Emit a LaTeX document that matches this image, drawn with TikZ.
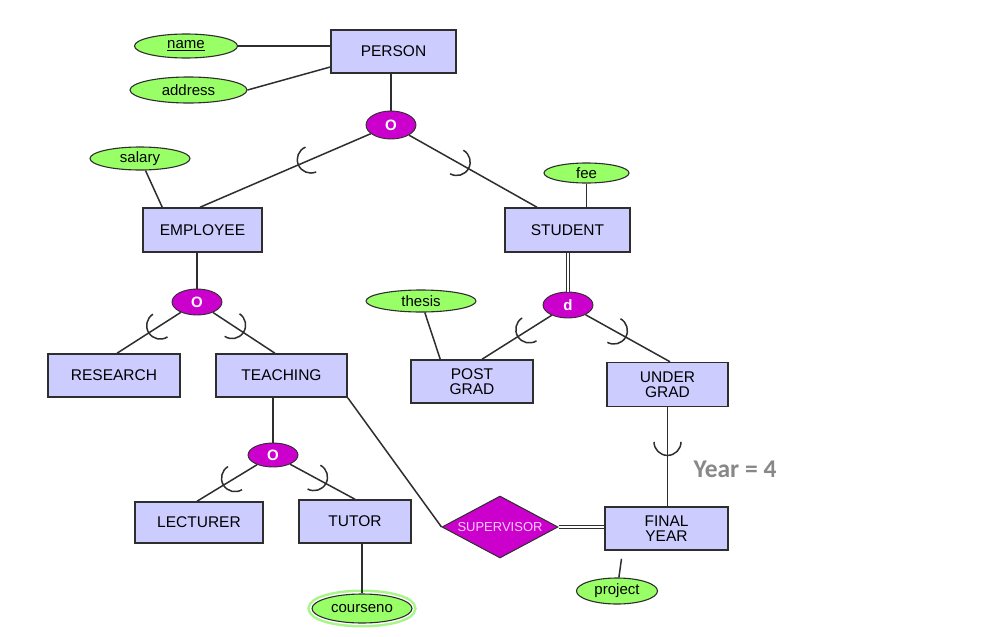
\documentclass[tikz,border=0pt]{standalone}
\usepackage{fontspec}
\setmainfont{Liberation Sans}
\newfontfamily\yearfont{Carlito}
\usetikzlibrary{shapes.geometric,calc}
\definecolor{entfill}{HTML}{CCCCFF}
\definecolor{attfill}{HTML}{99FF66}
\definecolor{specfill}{HTML}{CC00CC}
\definecolor{edgecol}{HTML}{2E2E2E}
\definecolor{ringcol}{HTML}{A8F58A}
\definecolor{yeargray}{HTML}{888888}
\definecolor{suptext}{HTML}{FFCCFF}
\tikzset{
 entity/.style={draw=edgecol, line width=1.5pt, fill=entfill, inner sep=0pt, align=center, font=\fontsize{15.5}{15}\selectfont},
 attr/.style={ellipse, draw=edgecol, line width=1.1pt, fill=attfill, inner sep=0pt, font=\fontsize{15}{15}\selectfont},
 spec/.style={ellipse, draw=edgecol, line width=0.9pt, fill=specfill, inner sep=0pt, minimum width=50pt, minimum height=26pt, text=white, font=\bfseries\fontsize{15}{15}\selectfont},
 conn/.style={draw=edgecol, line width=1.5pt},
 dbl/.style={draw=edgecol, line width=1pt, double=white, double distance=2.2pt},
 cupsym/.pic={\draw[draw=edgecol, line width=1.5pt] (0pt,13.5pt) arc[start angle=90, delta angle=180, radius=13.5pt];}
}
\newcommand\cupon[3]{\path let \p1=($(#1)-(#2)$), \n1={atan2(\y1,\x1)} in ($(#1)!#3!(#2)$) pic[rotate=\n1]{cupsym};}
\begin{document}
\begin{tikzpicture}[x=1pt,y=-1pt]
\path[use as bounding box, fill=white] (0,0) rectangle (985,637);

% entities
\node[entity, minimum width=125pt, minimum height=43pt] (P) at (393.5,51.5) {PERSON};
\node[entity, minimum width=119pt, minimum height=44pt] (EMP) at (202.5,230) {EMPLOYEE};
\node[entity, minimum width=125pt, minimum height=44pt] (STU) at (567.5,230) {STUDENT};
\node[entity, minimum width=132pt, minimum height=43pt] (RES) at (114,375.5) {RESEARCH};
\node[entity, minimum width=131pt, minimum height=43pt] (TEACH) at (281.5,375.5) {TEACHING};
\node[entity, minimum width=122pt, minimum height=43pt] (PG) at (472,381.5) {POST\\GRAD};
\node[entity, minimum width=121pt, minimum height=44pt] (UG) at (667.5,384.5) {UNDER\\GRAD};
\node[entity, minimum width=128pt, minimum height=41pt] (LEC) at (199,522.5) {LECTURER};
\node[entity, minimum width=112pt, minimum height=43pt] (TUT) at (355,521.5) {TUTOR};
\node[entity, minimum width=123pt, minimum height=43pt] (FY) at (666.5,528.5) {FINAL\\YEAR};

% attributes
\node[attr, minimum width=103pt, minimum height=24pt] (name) at (186,46) {\underline{name}};
\node[attr, minimum width=117pt, minimum height=26pt] (addr) at (188.5,90) {address};
\node[attr, minimum width=100pt, minimum height=23pt] (salary) at (140,158.5) {salary};
\node[attr, minimum width=85pt, minimum height=20pt] (fee) at (586.5,173) {fee};
\node[attr, minimum width=110pt, minimum height=22pt] (thesis) at (421,301) {thesis};
\node[attr, minimum width=81pt, minimum height=26pt] (project) at (617,591) {project};
\node[attr, minimum width=100pt, minimum height=29pt,
      preaction={draw=ringcol, line width=9pt},
      preaction={draw=white, line width=4pt}] (cn) at (362,608.5) {courseno};

% specialisation circles
\node[spec, minimum height=28pt] (O) at (391,125) {O};
\node[spec] (O2) at (197,302) {O};
\node[spec] (d) at (568,305) {d};
\node[spec, minimum height=24pt] (O3) at (273,455) {O};

% relationship
\node[diamond, draw=edgecol, line width=1pt, fill=specfill, inner sep=0pt, aspect=1.87,
      minimum width=116pt, minimum height=62pt, text=suptext, font=\fontsize{13}{13}\selectfont] (SUP) at (500,527) {SUPERVISOR};

% label
\node[text=yeargray, font=\yearfont\bfseries\fontsize{25.5}{25.5}\selectfont] (yr) at (735,469) {Year = 4};

% coordinates for connector ends
\coordinate (addrend) at ([yshift=-15.5pt]P.west);
\coordinate (empend) at ([xshift=-2.5pt]EMP.north);
\coordinate (stuend) at ([xshift=-30.5pt]STU.north);
\coordinate (salend) at ([xshift=20pt]EMP.north west);
\coordinate (resend) at ([xshift=3pt]RES.north);
\coordinate (teachend) at ([xshift=-6.5pt]TEACH.north);
\coordinate (thesend) at ([xshift=30pt]PG.north west);
\coordinate (pgend) at ([xshift=10pt]PG.north);
\coordinate (ugend) at ([xshift=2.5pt]UG.north);
\coordinate (lecend) at ([xshift=-2pt]LEC.north);
\coordinate (tutend) at (TUT.north);
\coordinate (fyend) at (UG.south |- FY.north);
\coordinate (pjend) at ([xshift=-45pt,yshift=-8pt]FY.south);

% connectors
\draw[conn] (name.east) -- (name.east -| P.west);
\draw[conn] (addr.east) -- (addrend);
\draw[conn] (O) -- (O |- P.south);
\draw[conn] (O) -- (empend);
\draw[conn] (O) -- (stuend);
\draw[conn] (salary) -- (salend);
\draw[conn] (fee) -- (fee |- STU.north);
\draw[conn] (O2) -- (O2 |- EMP.south);
\draw[conn] (O2) -- (resend);
\draw[conn] (O2) -- (teachend);
\draw[dbl] (d) -- (d |- STU.south);
\draw[conn] (thesis) -- (thesend);
\draw[conn] (d) -- (pgend);
\draw[conn] (d) -- (ugend);
\draw[conn] (O3) -- (O3 |- TEACH.south);
\draw[conn] (O3) -- (lecend);
\draw[conn] (O3) -- (tutend);
\draw[conn] (cn) -- (cn |- TUT.south);
\draw[conn] (TEACH.south east) -- (SUP.west);
\draw[dbl] (SUP.east) -- (SUP.east -| FY.west);
\draw[conn] (UG.south) -- (fyend);
\draw[conn] (project) -- (pjend);

% subset marks
\cupon{O}{empend}{0.42}
\cupon{O}{stuend}{0.45}
\cupon{O2}{resend}{0.46}
\cupon{O2}{teachend}{0.45}
\cupon{d}{pgend}{0.45}
\cupon{d}{ugend}{0.45}
\cupon{O3}{lecend}{0.5}
\cupon{O3}{tutend}{0.5}
\cupon{UG.south}{fyend}{0.35}
\end{tikzpicture}
\end{document}
